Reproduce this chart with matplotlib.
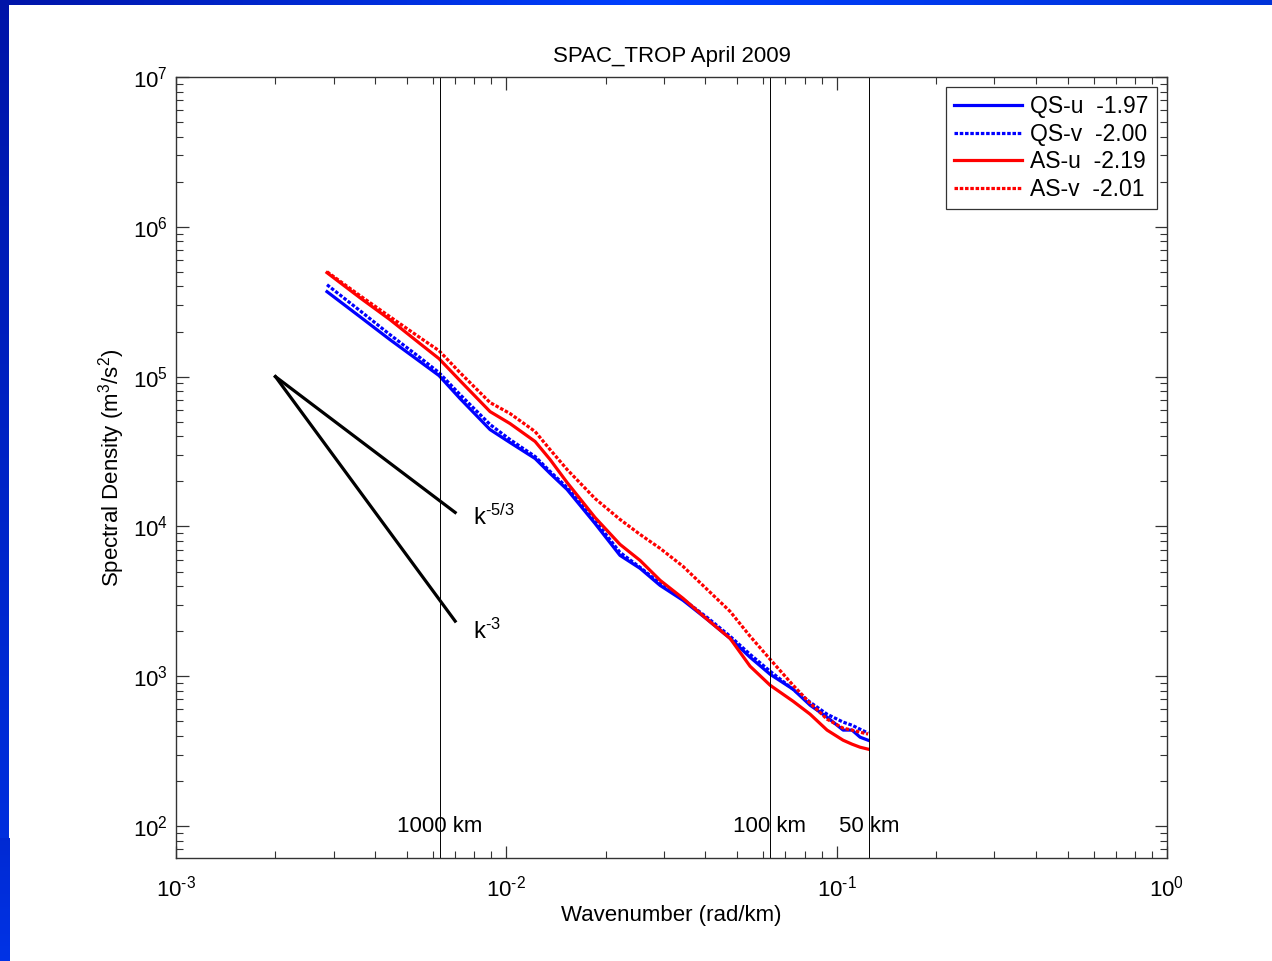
import numpy as np
import matplotlib
matplotlib.use("Agg")
import matplotlib.pyplot as plt
from matplotlib.ticker import LogLocator, NullFormatter, FuncFormatter
from matplotlib.colors import LinearSegmentedColormap

plt.rcParams['font.family'] = ['Liberation Sans', 'DejaVu Sans']
plt.rcParams['mathtext.fontset'] = 'custom'
plt.rcParams['mathtext.rm'] = 'Liberation Sans'
plt.rcParams['mathtext.it'] = 'Liberation Sans'
plt.rcParams['mathtext.default'] = 'regular'
plt.rcParams['axes.unicode_minus'] = False

# ---------------- data ----------------
k = [0.002865, 0.003606, 0.004444, 0.005479, 0.006255, 0.007241, 0.008928,
     0.01026, 0.01222, 0.01356, 0.01527, 0.01855, 0.02208, 0.02540, 0.02920,
     0.03428, 0.04052, 0.04756, 0.05468, 0.06287, 0.07379, 0.08309, 0.09352,
     0.1046, 0.1113, 0.1177, 0.1245]

qs_u = [3.69e5, 2.51e5, 1.765e5, 1.259e5, 1.016e5, 7.14e4, 4.43e4, 3.63e4,
        2.84e4, 2.26e4, 1.765e4, 1.047e4, 6.41e3, 5.25e3, 4.04e3, 3.21e3,
        2.40e3, 1.79e3, 1.339e3, 1.031e3, 819, 641, 533, 437, 437, 392, 374]
qs_v = [4.105e5, 2.754e5, 1.905e5, 1.339e5, 1.063e5, 7.59e4, 4.79e4, 3.80e4,
        2.93e4, 2.33e4, 1.82e4, 1.096e4, 6.71e3, 5.33e3, 4.17e3, 3.26e3,
        2.47e3, 1.85e3, 1.40e3, 1.08e3, 819, 671, 558, 494, 471, 443, 417]
as_u = [4.94e5, 3.36e5, 2.40e5, 1.66e5, 1.318e5, 9.40e4, 5.84e4, 4.86e4,
        3.69e4, 2.80e4, 1.965e4, 1.148e4, 7.59e3, 5.93e3, 4.37e3, 3.31e3,
        2.40e3, 1.79e3, 1.166e3, 871, 681, 558, 437, 374, 352, 336, 326]
as_v = [5.01e5, 3.47e5, 2.51e5, 1.82e5, 1.49e5, 1.063e5, 6.71e4, 5.67e4,
        4.30e4, 3.26e4, 2.40e4, 1.537e4, 1.114e4, 8.84e3, 7.14e3, 5.41e3,
        3.80e3, 2.71e3, 1.85e3, 1.298e3, 871, 661, 517, 450, 437, 423, 411]

series_labels = ['QS-u  -1.97', 'QS-v  -2.00', 'AS-u  -2.19', 'AS-v  -2.01']

# reference slopes
ref_k = [0.002, 0.007]
ref_e0 = 1e5
slope_53 = -5.0 / 3.0
slope_3 = -3.0

# wavelength markers (km)
wavelengths = [1000, 100, 50]
wl_labels = ['1000 km', '100 km', '50 km']

# ---------------- figure ----------------
W, H = 1272, 961
fig = plt.figure(figsize=(W / 100, H / 100), dpi=100)
fig.patch.set_facecolor('white')

# slide-like blue border (decoration)
bg = fig.add_axes([0, 0, 1, 1], zorder=-10)
bg.axis('off')
cm_top = LinearSegmentedColormap.from_list('t', [(0.0, 0.08, 0.66), (0.0, 0.25, 1.0), (0.0, 0.2, 0.85)])
cm_left = LinearSegmentedColormap.from_list('l', [(0.0, 0.08, 0.66), (0.0, 0.2, 0.9)])
bg.imshow(np.linspace(0, 1, 256)[None, :], extent=[0, W, 5, 0], cmap=cm_top, aspect='auto')
bg.imshow(np.linspace(0, 1, 256)[:, None], extent=[0, 9, H, 0], cmap=cm_left, aspect='auto')
bg.imshow(np.linspace(0.7, 1, 64)[:, None], extent=[0, 10, H, 838], cmap=cm_left,
          aspect='auto', vmin=0, vmax=1)
bg.set_xlim(0, W)
bg.set_ylim(H, 0)

ax = fig.add_axes([176 / W, 1 - 858 / H, (1167 - 176) / W, (858 - 77) / H])
ax.set_xscale('log')
ax.set_yscale('log')
ax.set_xlim(1e-3, 1e0)
ax.set_ylim(10 ** (2 - 32 / 150), 1e7)

lw = 2.3
dash = (0, (1.1, 0.55))
ax.plot(k, qs_u, color='#0000ff', lw=lw, label=series_labels[0])
ax.plot(k, qs_v, color='#0000ff', lw=lw, ls=dash, label=series_labels[1])
ax.plot(k, as_u, color='#ff0000', lw=lw, label=series_labels[2])
ax.plot(k, as_v, color='#ff0000', lw=lw, ls=dash, label=series_labels[3])

rk = np.array(ref_k)
ax.plot(rk, ref_e0 * (rk / rk[0]) ** slope_53, color='black', lw=2.3)
ax.plot(rk, ref_e0 * (rk / rk[0]) ** slope_3, color='black', lw=2.3)
ax.text(0.0079, ref_e0 * (rk[1] / rk[0]) ** slope_53 * 0.93, r'k$^{\text{-}5/3}$', fontsize=17,
        va='center', ha='left')
ax.text(0.0079, ref_e0 * (rk[1] / rk[0]) ** slope_3 * 0.86, r'k$^{\text{-}3}$', fontsize=17,
        va='center', ha='left')

for wl, lab in zip(wavelengths, wl_labels):
    kk = 2 * np.pi / wl
    ax.axvline(kk, color='black', lw=0.7)
    ax.text(kk, 100, lab, fontsize=16, ha='center', va='center')

ax.set_title('SPAC_TROP April 2009', fontsize=16, pad=11)
ax.set_xlabel('Wavenumber (rad/km)', fontsize=16, labelpad=2)
ax.set_ylabel(r'Spectral Density (m$^3$/s$^2$)', fontsize=16, labelpad=4)


def pow_fmt(v, pos):
    e = int(round(np.log10(v)))
    if e < 0:
        return r'$10^{\text{-}%d}$' % (-e)
    return r'$10^{%d}$' % e


ax.xaxis.set_major_locator(LogLocator(base=10, numticks=10))
ax.yaxis.set_major_locator(LogLocator(base=10, numticks=10))
ax.xaxis.set_major_formatter(FuncFormatter(pow_fmt))
ax.yaxis.set_major_formatter(FuncFormatter(pow_fmt))
ax.xaxis.set_minor_locator(LogLocator(base=10, subs=np.arange(2, 10), numticks=20))
ax.yaxis.set_minor_locator(LogLocator(base=10, subs=np.arange(2, 10), numticks=20))
ax.xaxis.set_minor_formatter(NullFormatter())
ax.yaxis.set_minor_formatter(NullFormatter())
ax.tick_params(which='both', direction='in', top=True, right=True, labelsize=16,
               color='#333333')
ax.tick_params(which='major', length=9, width=0.9)
ax.tick_params(which='minor', length=5, width=0.8)
ax.tick_params(axis='x', pad=13)
ax.tick_params(axis='y', pad=6)
for s in ax.spines.values():
    s.set_linewidth(1.0)
    s.set_color('#333333')

leg = ax.legend(loc='upper right', fontsize=16.5, frameon=True, fancybox=False,
                edgecolor='black', handlelength=3.0, handletextpad=0.35,
                borderpad=0.35, labelspacing=0.2, borderaxespad=0.45,
                handleheight=0.7)
leg.get_frame().set_linewidth(0.9)

fig.savefig('out.png', dpi=100)
